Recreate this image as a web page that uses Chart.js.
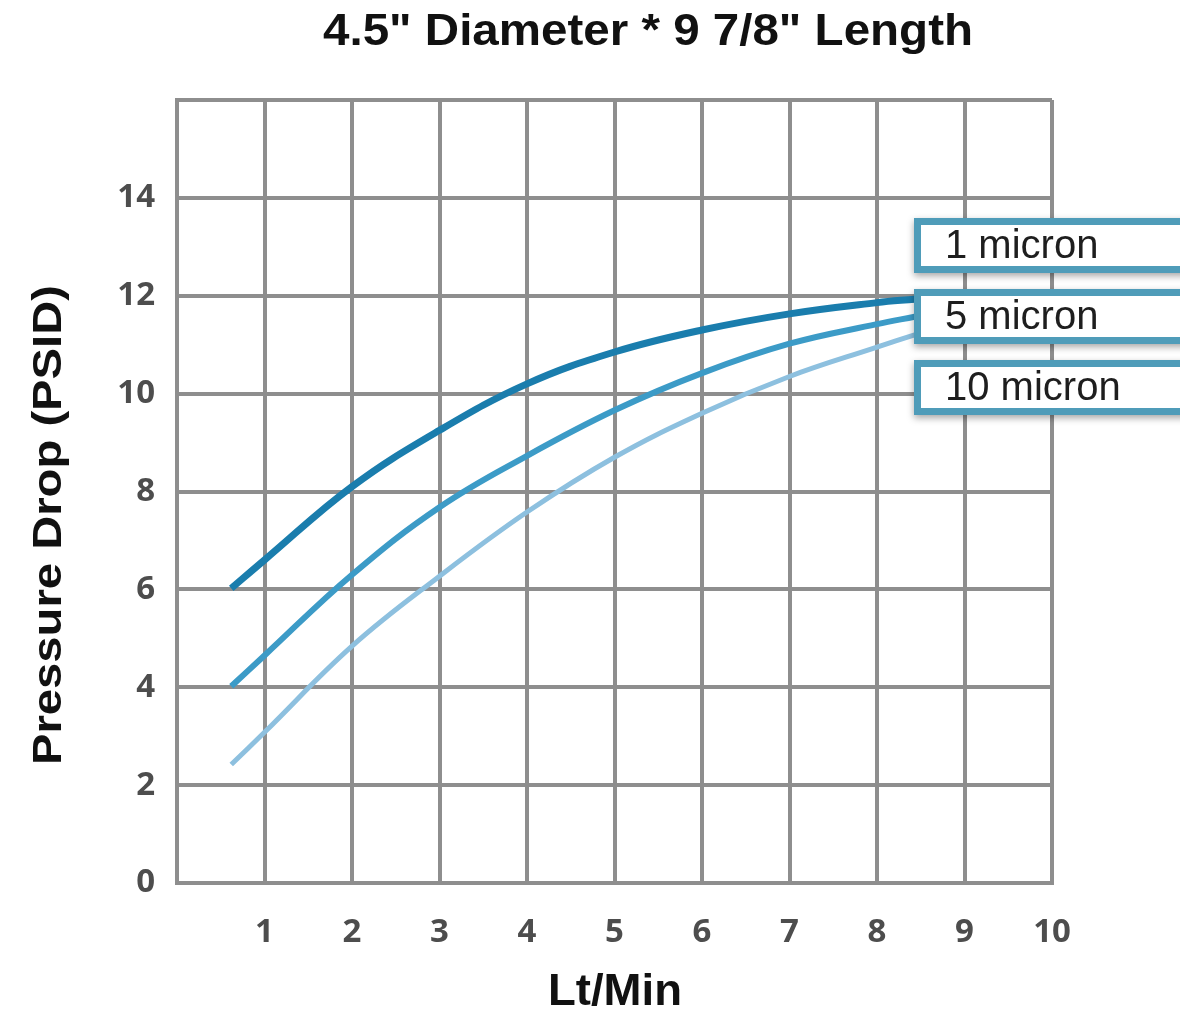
<!DOCTYPE html>
<html>
<head>
<meta charset="utf-8">
<script src="https://cdn.jsdelivr.net/npm/chart.js@4/dist/chart.umd.min.js"></script>
<style>
  html, body { margin: 0; padding: 0; background: #fff; }
  #wrap { width: 1180px; height: 1020px; }
</style>
</head>
<body>
<div id="wrap"><canvas id="flowChart" width="1180" height="1020"></canvas></div>
<script>
(() => {
    // données
    const chartTitle = '4.5" Diameter * 9 7/8" Length';
    const xTitle = 'Lt/Min';
    const yTitle = 'Pressure Drop (PSID)';

    const seriesNames = ['1 micron', '5 micron', '10 micron'];
    const flow = [0.62, 1, 2, 3, 4, 5, 6, 7, 8, 8.43];
    const micron1 = [6.02, 6.6, 8.1, 9.25, 10.2, 10.85, 11.3, 11.63, 11.86, 11.93];
    const micron5 = [4.02, 4.65, 6.3, 7.68, 8.73, 9.66, 10.42, 11.02, 11.42, 11.57];
    const micron10 = [2.42, 3.08, 4.84, 6.27, 7.58, 8.7, 9.6, 10.35, 10.95, 11.2];

    const xTicks = [1, 2, 3, 4, 5, 6, 7, 8, 9, 10];
    const yTicks = [0, 2, 4, 6, 8, 10, 12, 14];

    const colors = ['#1a7dad', '#3c9bc7', '#8dc0df'];
    const widths = [7, 6, 5];
    const gridColor = '#8e8e8e';

    const toPoints = vals => vals.map((v, i) => ({ x: flow[i], y: v }));
    const allSeries = [micron1, micron5, micron10];

    // titres + légende dessinés à la main
    const decorPlugin = {
        id: 'decor',
        afterDraw(chart) {
            const ctx = chart.ctx;
            const fitText = (txt, font, cx, cy, targetW, angle) => {
                ctx.save();
                ctx.font = font;
                const w = ctx.measureText(txt).width;
                ctx.translate(cx, cy);
                if (angle) ctx.rotate(angle);
                ctx.scale(targetW / w, 1);
                ctx.textAlign = 'center';
                ctx.textBaseline = 'middle';
                ctx.fillStyle = '#111';
                ctx.fillText(txt, 0, 0);
                ctx.restore();
            };
            fitText(chartTitle, 'bold 44px "Liberation Sans"', 648, 33, 650, 0);
            fitText(yTitle, 'bold 40px "Liberation Sans"', 50, 525, 480, -Math.PI / 2);
            fitText(xTitle, 'bold 44px "Liberation Sans"', 615, 993, 134, 0);

            // légende en cadres
            chart.data.datasets.forEach((ds, i) => {
                const top = 218 + i * 71;
                ctx.save();
                ctx.shadowColor = 'rgba(0,0,0,0.35)';
                ctx.shadowBlur = 7;
                ctx.shadowOffsetY = 3;
                ctx.fillStyle = '#fff';
                ctx.fillRect(914, top, 300, 55);
                ctx.restore();
                ctx.save();
                ctx.strokeStyle = '#4f9cb9';
                ctx.lineWidth = 7;
                ctx.strokeRect(917.5, top + 3.5, 300, 48);
                ctx.font = '40px "Liberation Sans"';
                ctx.fillStyle = '#1e1e1e';
                ctx.textBaseline = 'middle';
                ctx.textAlign = 'left';
                ctx.fillText(ds.label, 945, top + 29);
                ctx.restore();
            });
        }
    };

    const ctx = document.getElementById('flowChart');
    new Chart(ctx, {
        type: 'line',
        data: {
            datasets: seriesNames.map((name, i) => ({
                label: name,
                data: toPoints(allSeries[i]),
                borderColor: colors[i],
                borderWidth: widths[i],
                pointRadius: 0,
                fill: false,
                tension: 0.4,
                borderCapStyle: 'butt'
            }))
        },
        options: {
            responsive: false,
            devicePixelRatio: 1,
            animation: false,
            layout: { padding: { left: 0, top: 100, right: 128, bottom: 0 } },
            plugins: {
                legend: { display: false },
                title: { display: false },
                tooltip: { enabled: false }
            },
            scales: {
                x: {
                    type: 'linear',
                    min: 0,
                    max: 10,
                    afterFit: s => { s.height = 137; },
                    afterBuildTicks: s => { s.ticks = [0].concat(xTicks).map(v => ({ value: v })); },
                    ticks: {
                        padding: 30,
                        color: '#4d4d4d',
                        font: { family: 'Open Sans', size: 33, weight: '700' },
                        callback: v => (xTicks.includes(v) ? String(v) : '')
                    },
                    grid: { color: gridColor, lineWidth: 4, drawTicks: false },
                    border: { color: gridColor, width: 4 }
                },
                y: {
                    min: 0,
                    max: 16,
                    afterFit: s => { s.width = 177; },
                    afterBuildTicks: s => { s.ticks = yTicks.concat([16]).map(v => ({ value: v })); },
                    ticks: {
                        padding: 22,
                        color: '#4d4d4d',
                        font: { family: 'Open Sans', size: 33, weight: '700' },
                        callback: v => (yTicks.includes(v) ? String(v) : '')
                    },
                    grid: { color: gridColor, lineWidth: 4, drawTicks: false },
                    border: { color: gridColor, width: 4 }
                }
            }
        },
        plugins: [decorPlugin]
    });
})();
</script>
</body>
</html>
